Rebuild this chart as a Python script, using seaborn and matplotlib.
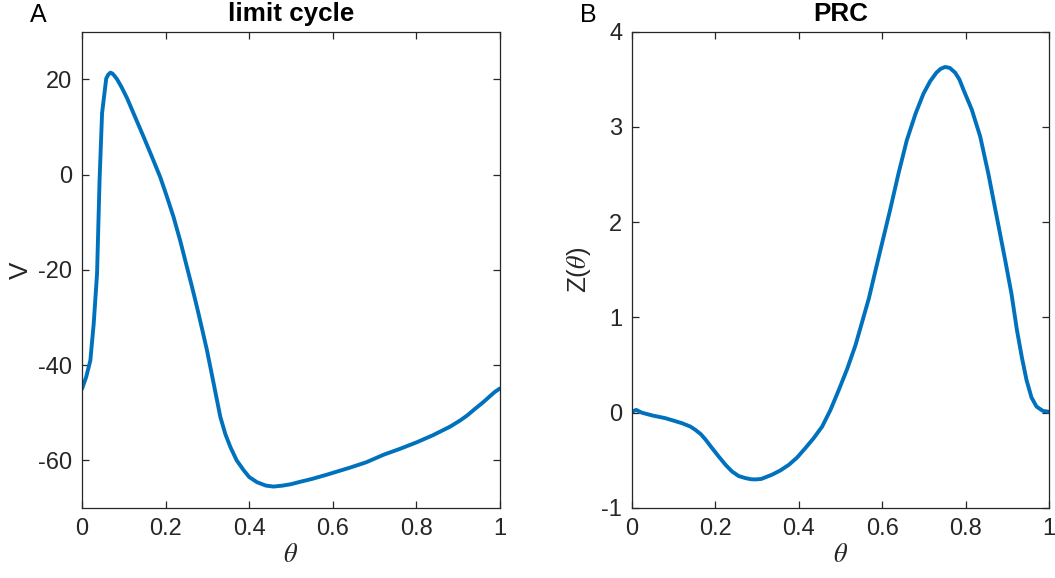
import numpy as np
import pandas as pd
import matplotlib
matplotlib.use("Agg")
import matplotlib.pyplot as plt
import seaborn as sns

# ---- data ----
theta_A = [0, 0.01, 0.02, 0.028, 0.036, 0.042, 0.048, 0.058, 0.063, 0.068, 0.073, 0.078,
           0.084, 0.095, 0.108, 0.127, 0.147, 0.167, 0.187, 0.203, 0.219, 0.235,
           0.251, 0.263, 0.275, 0.287, 0.299, 0.313, 0.331, 0.343, 0.355, 0.37,
           0.387, 0.40, 0.419, 0.44, 0.458, 0.48, 0.50, 0.522, 0.55, 0.586, 0.642,
           0.68, 0.722, 0.76, 0.801, 0.84, 0.881, 0.905, 0.921, 0.94, 0.961,
           0.975, 0.988, 1.0]
V_A = [-45, -42.5, -39, -31.3, -20.8, -1.2, 12.9, 20.2, 21.0, 21.4, 21.2, 20.7,
       20.0, 18.3, 16.0, 12.1, 8.0, 3.8, -0.5, -4.6, -8.9, -13.9,
       -19.4, -23.5, -27.8, -32.3, -36.9, -43.0, -50.9, -54.5, -57.2, -60.0,
       -62.1, -63.5, -64.6, -65.3, -65.5, -65.3, -65.0, -64.5, -63.9, -63.0, -61.5,
       -60.4, -58.8, -57.6, -56.2, -54.7, -52.9, -51.6, -50.6, -49.2, -47.7,
       -46.6, -45.6, -44.9]

theta_B = [0, 0.01, 0.024, 0.05, 0.08, 0.12, 0.14, 0.152, 0.165, 0.176, 0.19,
           0.208, 0.225, 0.24, 0.256, 0.272, 0.285, 0.296, 0.31, 0.336, 0.356,
           0.376, 0.396, 0.416, 0.436, 0.456, 0.476, 0.496, 0.516, 0.536, 0.568,
           0.587, 0.619, 0.639, 0.659, 0.68, 0.699, 0.715, 0.73, 0.74, 0.751,
           0.762, 0.775, 0.785, 0.795, 0.815, 0.835, 0.855, 0.875, 0.895, 0.91,
           0.923, 0.935, 0.946, 0.958, 0.97, 0.985, 1.0]
Z_B = [0.01, 0.03, 0.0, -0.03, -0.057, -0.11, -0.145, -0.18, -0.225, -0.28, -0.36,
       -0.46, -0.55, -0.617, -0.665, -0.686, -0.698, -0.70, -0.695, -0.65, -0.605,
       -0.547, -0.47, -0.37, -0.265, -0.145, 0.03, 0.24, 0.46, 0.71, 1.2,
       1.55, 2.13, 2.51, 2.86, 3.14, 3.35, 3.48, 3.57, 3.61, 3.63,
       3.62, 3.57, 3.50, 3.39, 3.18, 2.90, 2.50, 2.05, 1.60, 1.25,
       0.87, 0.58, 0.345, 0.16, 0.065, 0.02, 0.01]

xticks = [0, 0.2, 0.4, 0.6, 0.8, 1]
xticklabels = ["0", "0.2", "0.4", "0.6", "0.8", "1"]
yticks_A = [-60, -40, -20, 0, 20]
yticks_B = [-1, 0, 1, 2, 3, 4]

titles = ["limit cycle", "PRC"]
panel_letters = ["A", "B"]

# ---- style ----
sns.set_style("ticks")
plt.rcParams["font.family"] = ["Liberation Sans", "DejaVu Sans"]
plt.rcParams["mathtext.fontset"] = "stix"
plt.rcParams["axes.unicode_minus"] = False

LINE = "#0072BD"
AX = "#262626"

fig = plt.figure(figsize=(10.55, 5.78), dpi=100)
axA = fig.add_axes([82 / 1055, 1 - 508 / 578, 418 / 1055, 476.3 / 578])
axB = fig.add_axes([632 / 1055, 1 - 508 / 578, 417 / 1055, 476.3 / 578])

dfA = pd.DataFrame({"theta": theta_A, "V": V_A})
dfB = pd.DataFrame({"theta": theta_B, "Z": Z_B})
sns.lineplot(data=dfA, x="theta", y="V", ax=axA, color=LINE, linewidth=2.8)
sns.lineplot(data=dfB, x="theta", y="Z", ax=axB, color=LINE, linewidth=2.8)

axA.set_xlim(0, 1)
axA.set_ylim(-70, 30)
axA.set_yticks(yticks_A)
axA.set_yticklabels([str(v) for v in yticks_A])
axB.set_xlim(0, 1)
axB.set_ylim(-1, 4)
axB.set_yticks(yticks_B)
axB.set_yticklabels([str(v) for v in yticks_B])

for ax, t in zip([axA, axB], titles):
    ax.set_xticks(xticks)
    ax.set_xticklabels(xticklabels)
    ax.tick_params(direction="in", top=True, right=True, length=5, width=0.9,
                   colors=AX, labelsize=17, labelcolor=AX, pad=7)
    for s in ax.spines.values():
        s.set_visible(True)
        s.set_color(AX)
        s.set_linewidth(0.9)
    ax.set_xlabel(r"$\theta$", fontsize=19, color=AX, labelpad=2)
    ax.set_title(t, fontsize=18.7, fontweight="bold", color="black", pad=8)
    ax.grid(False)

axA.set_ylabel("V", fontsize=18.7, color=AX, labelpad=4)
axB.set_ylabel(r"Z($\theta$)", fontsize=18.7, color=AX, labelpad=6)

fig.text(30 / 1055, 1 - 21.5 / 578, panel_letters[0], fontsize=18, color="black", va="baseline")
fig.text(580 / 1055, 1 - 21.5 / 578, panel_letters[1], fontsize=18, color="black", va="baseline")

fig.savefig("out.png", dpi=100, facecolor="white")
